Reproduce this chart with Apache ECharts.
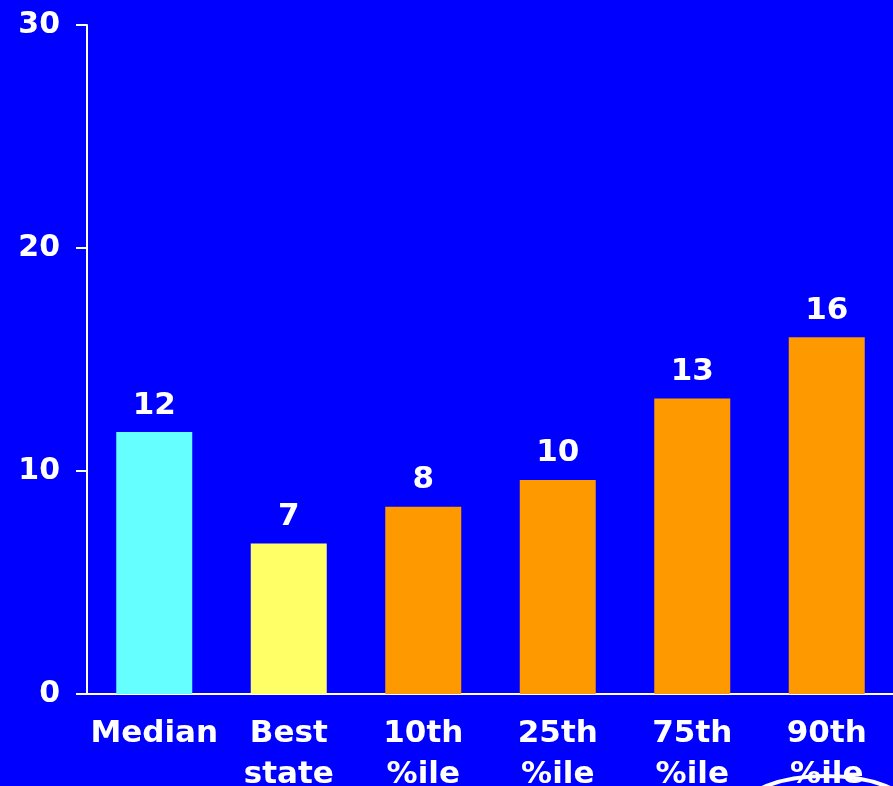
<!DOCTYPE html>
<html>
<head>
<meta charset="utf-8">
<script src="https://cdn.jsdelivr.net/npm/echarts@6/dist/echarts.min.js"></script>
<style>
html,body{margin:0;padding:0;background:#0000FF;overflow:hidden;}
#chart{width:893px;height:786px;}
</style>
</head>
<body>
<div id="chart"></div>
<script>
var categories = ['Median', 'Best\nstate', '10th\n%ile', '25th\n%ile', '75th\n%ile', '90th\n%ile'];
var values = [11.75, 6.75, 8.4, 9.6, 13.25, 16.0];
var valueLabels = ['12', '7', '8', '10', '13', '16'];
var barColors = ['#66FFFF', '#FFFF66', '#FF9900', '#FF9900', '#FF9900', '#FF9900'];
var yTicks = [0, 10, 20, 30];

var FONT = '"DejaVu Sans", sans-serif';
var chart = echarts.init(document.getElementById('chart'), null, {renderer: 'canvas', width: 893, height: 786});
chart.setOption({
  backgroundColor: '#0000FF',
  animation: false,
  grid: {left: 87, width: 807, top: 25, height: 669, containLabel: false, outerBoundsMode: 'none'},
  xAxis: {
    type: 'category',
    data: categories,
    axisLine: {lineStyle: {color: '#FFFFFF', width: 2}},
    axisTick: {length: 11, lineStyle: {color: '#FFFFFF', width: 2}},
    axisLabel: {color: '#FFFFFF', fontFamily: FONT, fontWeight: 'bold', fontSize: 31, lineHeight: 41, margin: 19, interval: 0}
  },
  yAxis: {
    type: 'value',
    min: yTicks[0],
    max: yTicks[yTicks.length - 1],
    interval: 10,
    axisLine: {show: true, lineStyle: {color: '#FFFFFF', width: 2}},
    axisTick: {show: true, length: 11, lineStyle: {color: '#FFFFFF', width: 2}},
    splitLine: {show: false},
    axisLabel: {color: '#FFFFFF', fontFamily: FONT, fontWeight: 'bold', fontSize: 30, margin: 27}
  },
  series: [{
    type: 'bar',
    barWidth: 76,
    data: values.map(function (v, i) {
      return {value: v, itemStyle: {color: barColors[i]}};
    }),
    label: {
      show: true,
      position: 'top',
      distance: 11,
      color: '#FFFFFF',
      fontFamily: FONT,
      fontWeight: 'bold',
      fontSize: 31,
      formatter: function (p) { return valueLabels[p.dataIndex]; }
    }
  }],
  graphic: [{
    type: 'ellipse',
    shape: {cx: 826, cy: 810, rx: 84, ry: 34},
    style: {fill: 'none', stroke: '#FFFFFF', lineWidth: 4},
    z: 100
  }]
});
</script>
</body>
</html>
